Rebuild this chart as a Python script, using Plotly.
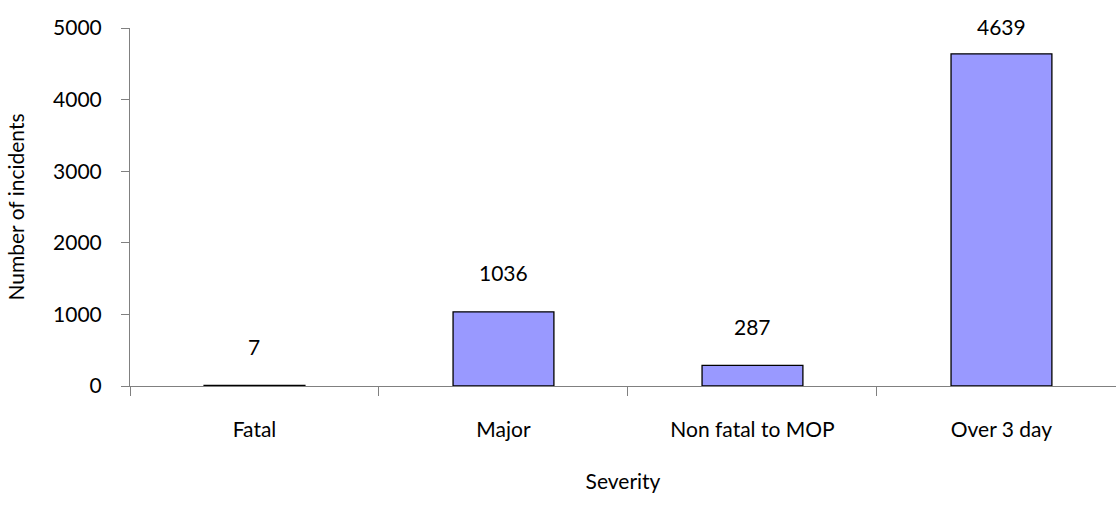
import plotly.graph_objects as go

# Incident counts by severity
categories = ["Fatal", "Major", "Non fatal to MOP", "Over 3 day"]
incidents = [7, 1036, 287, 4639]
y_ticks = [0, 1000, 2000, 3000, 4000, 5000]

FONT = "Lato, 'Open Sans', sans-serif"
FONT_SIZE = 21
Y_MAX = 5000
PLOT_TOP, PLOT_BOTTOM = 28, 386
px_per_unit = (PLOT_BOTTOM - PLOT_TOP) / Y_MAX

fig = go.Figure()
fig.add_trace(go.Bar(
    x=categories,
    y=incidents,
    width=0.405,
    marker=dict(color="#9999FF", line=dict(color="#000000", width=1.3)),
    hoverinfo="x+y",
))

# Value labels sit 39px above each bar; near the plot top they stop ~1px above the frame
for cat, val in zip(categories, incidents):
    shift = min(39, (Y_MAX - val) * px_per_unit + 1.3)
    fig.add_annotation(
        x=cat, y=val, yshift=shift, text=str(val), showarrow=False,
        font=dict(family=FONT, size=FONT_SIZE, color="#000000"),
        xanchor="center", yanchor="middle",
    )

fig.update_layout(
    width=1116, height=507,
    margin=dict(l=130, r=0, t=PLOT_TOP, b=507 - PLOT_BOTTOM),
    plot_bgcolor="white", paper_bgcolor="white",
    font=dict(family=FONT, size=FONT_SIZE, color="#000000"),
    showlegend=False,
)

fig.update_xaxes(
    range=[-0.5, 3.46],
    showline=True, linecolor="#808080", linewidth=1,
    ticks="outside", tickson="boundaries", ticklen=9, tickcolor="#808080",
    showgrid=False, zeroline=False,
    ticklabelstandoff=25,
    title=dict(text="Severity", font=dict(family=FONT, size=FONT_SIZE), standoff=34),
)
fig.update_yaxes(
    range=[0, Y_MAX],
    tickvals=y_ticks,
    showline=True, linecolor="#808080", linewidth=1,
    ticks="outside", ticklen=8, tickcolor="#808080",
    showgrid=False, zeroline=False,
    ticklabelstandoff=15,
    title=dict(text="Number of incidents", font=dict(family=FONT, size=FONT_SIZE), standoff=22),
)

fig.write_html("out.html")
